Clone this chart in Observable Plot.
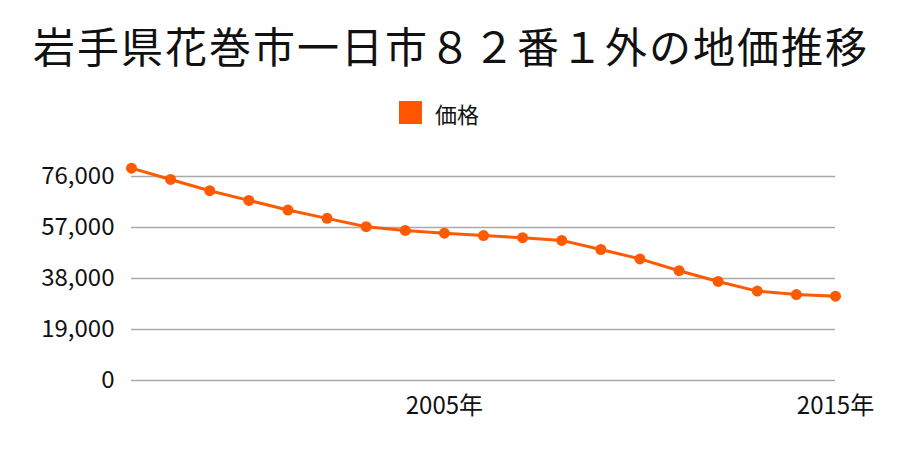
<!DOCTYPE html>
<html>
<head>
<meta charset="utf-8">
<script src="https://cdn.jsdelivr.net/npm/d3@7"></script>
<script src="https://cdn.jsdelivr.net/npm/@observablehq/plot@0.6"></script>
<style>
  body { margin: 0; background: #fff; font-family: "Noto Sans CJK JP", "Noto Sans", sans-serif; }
  #wrap { width: 900px; height: 450px; position: relative; overflow: hidden; }
  #title { height: 90px; line-height: 90px; text-align: center; font-size: 42px; letter-spacing: 2px; padding-left: 2px; color: #111; white-space: nowrap; }
  #legend { height: 45px; display: flex; align-items: center; justify-content: center; font-size: 22px; color: #111; }
  #legend .sw { width: 23px; height: 23px; background: #ff5500; margin-right: 13px; margin-left: -22px; }
  svg { display: block; }
</style>
</head>
<body>
<div id="wrap">
  <div id="title">岩手県花巻市一日市８２番１外の地価推移</div>
  <div id="legend"><span class="sw"></span><span>価格</span></div>
  <div id="chart"></div>
</div>
<script>
const seriesName = "価格";
const years = [1997, 1998, 1999, 2000, 2001, 2002, 2003, 2004, 2005, 2006, 2007, 2008, 2009, 2010, 2011, 2012, 2013, 2014, 2015];
const values = [79100, 74900, 70700, 67100, 63500, 60400, 57300, 55900, 54900, 54000, 53200, 52200, 48800, 45300, 40900, 36900, 33300, 32000, 31400];
const xTicks = [2005, 2015];
const yTicks = [0, 19000, 38000, 57000, 76000];

const data = years.map((y, i) => ({year: y, value: values[i]}));
const color = "#ff5a00";

const chart = Plot.plot({
  width: 900,
  height: 315,
  marginLeft: 131,
  marginRight: 65,
  marginTop: 41,
  marginBottom: 70,
  style: { fontFamily: '"Noto Sans CJK JP", "Noto Sans", sans-serif', fontSize: "24px", color: "#111", background: "#fff", overflow: "visible" },
  x: { domain: [1997, 2015] },
  y: { domain: [0, 76000] },
  marks: [
    Plot.gridY(yTicks, { stroke: "#aaa", strokeOpacity: 1, strokeWidth: 1.5 }),
    Plot.axisY(yTicks, { tickSize: 0, tickPadding: 17, label: null, tickFormat: d => d3.format(",")(d), fontSize: 24, fill: "#111" }),
    Plot.axisX(xTicks, { tickSize: 0, tickPadding: 16, label: null, tickFormat: d => d + "年", fontSize: 24, fill: "#111" }),
    Plot.line(data, { x: "year", y: "value", stroke: color, strokeWidth: 3 }),
    Plot.dot(data, { x: "year", y: "value", fill: color, r: 5.5 })
  ]
});
document.getElementById("chart").appendChild(chart);
</script>
</body>
</html>
